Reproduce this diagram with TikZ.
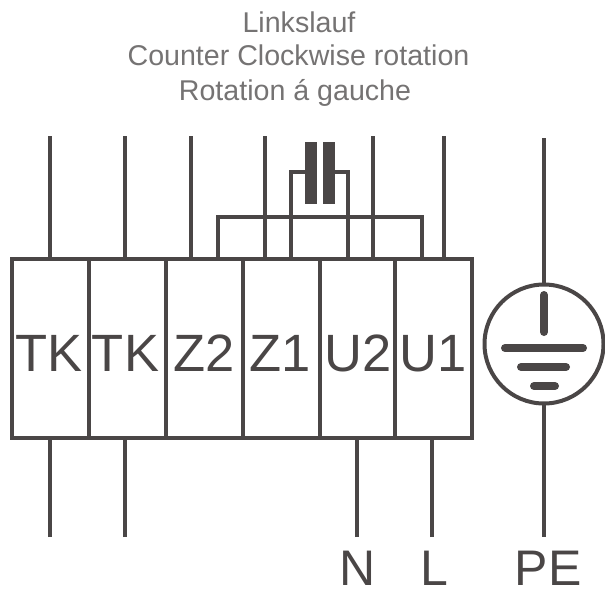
\documentclass[tikz,border=0pt]{standalone}
\usepackage{fontspec}
\setmainfont{Liberation Sans}
\definecolor{wire}{HTML}{4A4646}
\definecolor{captxt}{HTML}{757373}
\tikzset{
  wireline/.style={draw=wire,line width=4pt},
  cell/.style={draw=wire,line width=4pt,minimum height=178.5pt,inner sep=0pt,outer sep=0pt,anchor=north west},
  title/.style={text=captxt,font=\fontsize{28.6}{28.6}\selectfont,inner sep=0pt,anchor=base},
  terminal/.style={text=wire,font=\fontsize{52.5}{52.5}\selectfont,inner sep=0pt,anchor=base},
  supply/.style={text=wire,font=\fontsize{50}{50}\selectfont,inner sep=0pt,anchor=base},
  bar/.style={draw=wire,line width=8pt,line cap=round},
}
\begin{document}
\begin{tikzpicture}[x=1pt,y=-1pt]
\useasboundingbox (0,0) rectangle (605,597);
\node[title] (t1) at (299,32) {Linkslauf};
\node[title] (t2) at (298.5,65) {Counter Clockwise rotation};
\node[title] (t3) at (295,100) {Rotation á gauche};
% terminal cells
\node[cell,minimum width=77pt] (c1) at (12,259) {};
\node[cell,minimum width=77pt] (c2) at (89,259) {};
\node[cell,minimum width=77pt] (c3) at (166,259) {};
\node[cell,minimum width=77pt] (c4) at (243,259) {};
\node[cell,minimum width=75pt] (c5) at (320,259) {};
\node[cell,minimum width=76.5pt] (c6) at (395,259) {};
\node[terminal] (l1) at (49,371) {TK};
\node[terminal] (l2) at (125.5,371) {TK};
\node[terminal] (l3) at (204,371) {Z2};
\node[terminal] (l4) at (280.5,371) {Z1};
\node[terminal] (l5) at (358,371) {U2};
\node[terminal] (l6) at (433,371) {U1};
% free wire ends
\coordinate (a1) at (50,136);
\coordinate (a2) at (125,136);
\coordinate (a3) at (191,136);
\coordinate (a4) at (265,136);
\coordinate (a5) at (373,136);
\coordinate (a6) at (444,136);
\coordinate (b1) at (50,537);
\coordinate (b2) at (125,537);
\coordinate (b3) at (357,537);
\coordinate (b4) at (432,537);
\foreach \i/\c in {1/c1,2/c2,3/c3,4/c4,5/c5,6/c6}{\draw[wireline] (a\i) -- (a\i |- \c.north);}
\foreach \i/\c in {1/c1,2/c2,3/c5,4/c6}{\draw[wireline] (b\i) -- (b\i |- \c.south);}
% bus
\coordinate (p1) at (218,217);
\coordinate (p2) at (422,217);
\draw[wireline,line join=miter] (p1 |- c3.north) -- (p1) -- (p2) -- (p2 |- c6.north);
% capacitor
\fill[wire] (305,142) rectangle (317,204);
\fill[wire] (323,142) rectangle (335,204);
\coordinate (q1) at (291,172);
\coordinate (q2) at (348,172);
\coordinate (q3) at (306,172);
\coordinate (q4) at (334,172);
\draw[wireline,line join=miter] (q1 |- c4.north) -- (q1) -- (q3);
\draw[wireline,line join=miter] (q2 |- c5.north) -- (q2) -- (q4);
% earth
\node[circle,draw=wire,line width=4pt,minimum size=119pt,inner sep=0pt,outer sep=0pt] (pe) at (544,344) {};
\coordinate (e1) at (544,138);
\coordinate (e2) at (544,537);
\draw[wireline] (e1) -- (pe.north);
\draw[wireline] (pe.south) -- (e2);
\draw[bar] (544,295) -- (544,332);
\draw[bar] (505,348) -- (583,348);
\draw[bar] (521,367) -- (566,367);
\draw[bar] (534,386) -- (555,386);
% labels
\node[supply] (ln) at (358,585) {N};
\node[supply] (ll) at (434,585) {L};
\node[supply] (lp) at (548,585) {PE};
\end{tikzpicture}
\end{document}
